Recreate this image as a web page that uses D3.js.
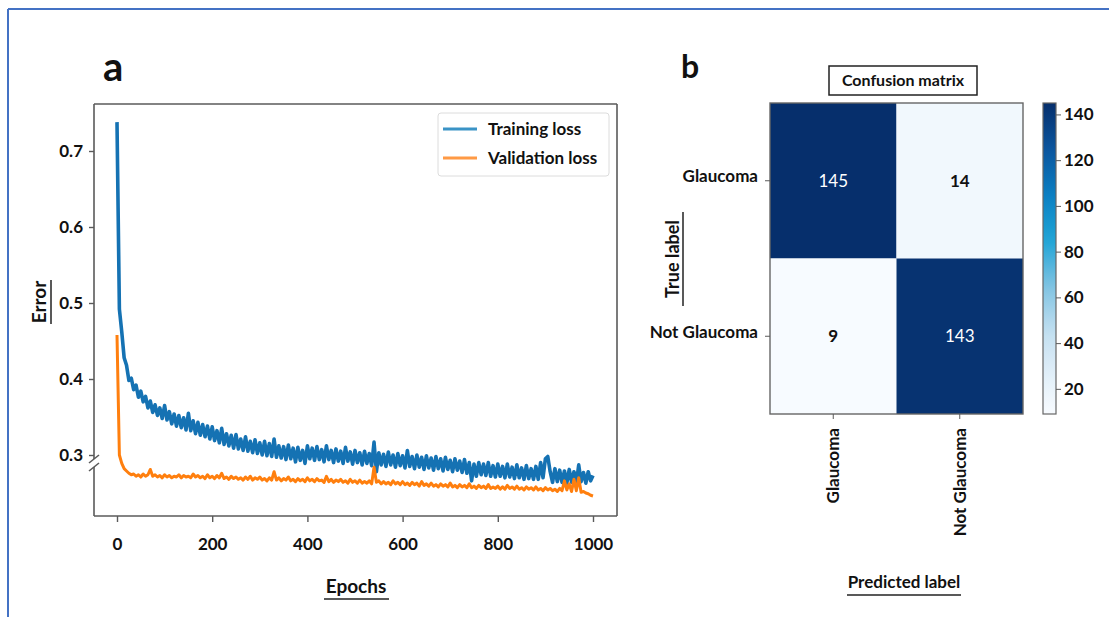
<!DOCTYPE html>
<html><head><meta charset="utf-8">
<script src="https://cdn.jsdelivr.net/npm/d3@7"></script>
<style>
body{margin:0;background:#fff}
svg{display:block}
text{font-family:Lato,"Open Sans",sans-serif}
</style>
</head><body>
<svg id="c" width="1109" height="617"></svg>
<script>
// ---------- data ----------
const epochStep = 5;
const trainingLoss = [
0.738,0.492,0.462,0.428,0.418,0.398,0.401,0.386,0.392,0.376,
0.384,0.370,0.377,0.362,0.371,0.356,0.366,0.352,0.362,0.348,
0.365,0.346,0.357,0.341,0.354,0.338,0.352,0.336,0.349,0.333,
0.355,0.332,0.345,0.328,0.343,0.326,0.340,0.324,0.338,0.321,
0.337,0.319,0.332,0.316,0.335,0.314,0.328,0.312,0.326,0.309,
0.327,0.308,0.321,0.306,0.324,0.305,0.318,0.303,0.320,0.302,
0.316,0.300,0.318,0.299,0.315,0.298,0.321,0.297,0.312,0.296,
0.311,0.294,0.313,0.295,0.309,0.291,0.310,0.293,0.306,0.289,
0.312,0.295,0.309,0.293,0.311,0.294,0.307,0.291,0.312,0.294,
0.306,0.290,0.308,0.292,0.305,0.289,0.310,0.292,0.304,0.288,
0.306,0.290,0.303,0.287,0.305,0.289,0.302,0.286,0.317,0.278,
0.303,0.287,0.301,0.285,0.304,0.287,0.300,0.284,0.302,0.286,
0.299,0.283,0.306,0.285,0.298,0.282,0.300,0.284,0.297,0.281,
0.299,0.283,0.296,0.280,0.298,0.282,0.295,0.279,0.297,0.281,
0.293,0.278,0.295,0.280,0.292,0.277,0.294,0.276,0.290,0.266,
0.288,0.272,0.290,0.274,0.288,0.273,0.290,0.272,0.286,0.271,
0.288,0.272,0.285,0.270,0.288,0.271,0.284,0.269,0.287,0.270,
0.283,0.268,0.286,0.269,0.282,0.268,0.285,0.268,0.290,0.270,
0.295,0.298,0.278,0.264,0.282,0.265,0.280,0.264,0.279,0.263,
0.281,0.264,0.278,0.263,0.287,0.265,0.277,0.263,0.278,0.266,
0.273];
const validationLoss = [
0.458,0.300,0.289,0.282,0.279,0.276,0.274,0.275,0.272,0.274,
0.271,0.275,0.272,0.274,0.281,0.272,0.274,0.271,0.273,0.270,
0.274,0.271,0.273,0.270,0.272,0.271,0.274,0.270,0.273,0.271,
0.272,0.270,0.275,0.271,0.273,0.270,0.272,0.269,0.274,0.270,
0.272,0.269,0.273,0.270,0.276,0.269,0.271,0.268,0.272,0.269,
0.271,0.268,0.270,0.267,0.271,0.268,0.272,0.267,0.270,0.268,
0.271,0.267,0.269,0.266,0.270,0.267,0.278,0.267,0.270,0.266,
0.269,0.267,0.271,0.266,0.268,0.265,0.269,0.266,0.268,0.265,
0.270,0.266,0.268,0.265,0.269,0.266,0.267,0.264,0.272,0.265,
0.268,0.264,0.267,0.265,0.268,0.264,0.266,0.263,0.268,0.264,
0.266,0.263,0.267,0.263,0.265,0.263,0.266,0.262,0.284,0.264,
0.266,0.262,0.265,0.262,0.264,0.261,0.266,0.262,0.264,0.261,
0.265,0.261,0.263,0.260,0.264,0.261,0.263,0.259,0.265,0.260,
0.262,0.259,0.263,0.259,0.261,0.258,0.262,0.259,0.261,0.258,
0.263,0.258,0.260,0.257,0.261,0.258,0.260,0.257,0.262,0.257,
0.259,0.256,0.260,0.257,0.259,0.256,0.261,0.256,0.258,0.256,
0.259,0.255,0.258,0.255,0.260,0.256,0.258,0.255,0.259,0.255,
0.257,0.254,0.258,0.255,0.257,0.254,0.258,0.254,0.256,0.253,
0.257,0.254,0.256,0.253,0.255,0.252,0.256,0.253,0.266,0.254,
0.262,0.252,0.268,0.253,0.270,0.251,0.252,0.250,0.249,0.247,
0.246];
const seriesNames = ["Training loss","Validation loss"];
const xTicks = [0,200,400,600,800,1000];
const yTicks = [0.3,0.4,0.5,0.6,0.7];
const classes = ["Glaucoma","Not Glaucoma"];
const confusion = [[145,14],[9,143]];
const colorbarTicks = [20,40,60,80,100,120,140];
const colorbarDomain = [9,145];

// ---------- styles ----------
const C_TRAIN = "#1572b3", C_VAL = "#ff7f0e";
const FRAME = "#4472c4", SPINE = "#5a5a5a";
const cmapStops = [9,25,45,65,85,105,125,145];
const cmapColors = ["#f7fbff","#e3f0f9","#c2dff0","#7fc3e2","#1ea4d6","#0a7fc2","#0b559e","#062f6c"];

const svg = d3.select("#c");

// outer blue frame
svg.append("line").attr("x1",8).attr("x2",1109).attr("y1",9).attr("y2",9).attr("stroke",FRAME).attr("stroke-width",2);
svg.append("line").attr("x1",8).attr("x2",8).attr("y1",9).attr("y2",617).attr("stroke",FRAME).attr("stroke-width",2);

// ================= panel a =================
const x = d3.scaleLinear().domain([0,1000]).range([117,593]);
const y = d3.scaleLinear().domain([0.3,0.7]).range([455,151]);
const P = {l:94, r:617, t:104, b:516};

svg.append("text").text("a").attr("x",103).attr("y",81).attr("font-size",40).attr("font-weight",700).attr("fill","#111");

const epochs = trainingLoss.map((_,i)=>i*epochStep);
const line = d3.line().x((d,i)=>x(epochs[i])).y(d=>y(d));
svg.append("path").datum(trainingLoss).attr("d",line).attr("fill","none").attr("stroke",C_TRAIN).attr("stroke-width",3.6).attr("stroke-linejoin","round");
svg.append("path").datum(validationLoss).attr("d",line).attr("fill","none").attr("stroke",C_VAL).attr("stroke-width",3).attr("stroke-linejoin","round");

// spines
const sp = svg.append("g").attr("stroke",SPINE).attr("stroke-width",1.6).attr("fill","none");
sp.append("line").attr("x1",P.l).attr("x2",P.r).attr("y1",P.t).attr("y2",P.t);
sp.append("line").attr("x1",P.r).attr("x2",P.r).attr("y1",P.t).attr("y2",P.b);
sp.append("line").attr("x1",P.l).attr("x2",P.r).attr("y1",P.b).attr("y2",P.b);
sp.append("line").attr("x1",P.l).attr("x2",P.l).attr("y1",P.t).attr("y2",459);
sp.append("line").attr("x1",P.l).attr("x2",P.l).attr("y1",467).attr("y2",P.b);
sp.append("line").attr("x1",89).attr("x2",99).attr("y1",463).attr("y2",455);
sp.append("line").attr("x1",89).attr("x2",99).attr("y1",471).attr("y2",463);

const ax = svg.append("g").attr("transform",`translate(0,${P.b})`)
  .call(d3.axisBottom(x).tickValues(xTicks).tickFormat(d3.format("d")).tickSize(6).tickPadding(16));
ax.select(".domain").remove();
ax.selectAll("line").attr("stroke",SPINE).attr("stroke-width",1.4);
ax.selectAll("text").attr("font-size",17).attr("font-weight",700).attr("fill","#111").attr("font-family","Lato");

const ay = svg.append("g").attr("transform",`translate(${P.l},0)`)
  .call(d3.axisLeft(y).tickValues(yTicks).tickFormat(d3.format(".1f")).tickSize(5).tickPadding(6));
ay.select(".domain").remove();
ay.selectAll("line").attr("stroke",SPINE).attr("stroke-width",1.4);
ay.selectAll("text").attr("font-size",17).attr("font-weight",700).attr("fill","#111").attr("font-family","Lato");

// axis titles
svg.append("text").text("Epochs").attr("x",356).attr("y",593).attr("text-anchor","middle").attr("font-size",19).attr("font-weight",700).attr("fill","#111");
svg.append("line").attr("x1",324).attr("x2",389).attr("y1",599).attr("y2",599).attr("stroke","#222").attr("stroke-width",1.5);
svg.append("text").text("Error").attr("transform","translate(46,302) rotate(-90)").attr("text-anchor","middle").attr("font-size",19).attr("font-weight",700).attr("fill","#111");
svg.append("line").attr("x1",51).attr("x2",51).attr("y1",280).attr("y2",324).attr("stroke","#222").attr("stroke-width",1.5);

// legend
const lg = svg.append("g");
lg.append("rect").attr("x",438).attr("y",113).attr("width",171).attr("height",63).attr("rx",3).attr("fill","#fff").attr("stroke","#dcdcdc").attr("stroke-width",1);
[C_TRAIN,C_VAL].forEach((c,i)=>{
  const yy = 129 + i*29;
  lg.append("line").attr("x1",443).attr("x2",477).attr("y1",yy).attr("y2",yy).attr("stroke",i?"#ff9a45":"#3a93c6").attr("stroke-width",3);
  lg.append("text").text(seriesNames[i]).attr("x",488).attr("y",yy+6).attr("font-size",17).attr("font-weight",700).attr("fill","#111");
});

// ================= panel b =================
svg.append("text").text("b").attr("x",681).attr("y",78).attr("font-size",32).attr("font-weight",700).attr("fill","#111");

const color = d3.scaleLinear().domain(cmapStops).range(cmapColors).interpolate(d3.interpolateRgb);
const cx = d3.scaleBand().domain(classes).range([770,1023]);
const cy = d3.scaleBand().domain(classes).range([103,414]);

// title box
svg.append("rect").attr("x",829).attr("y",66).attr("width",148).attr("height",29).attr("fill","#fff").attr("stroke","#222").attr("stroke-width",1.5);
svg.append("text").text("Confusion matrix").attr("x",903).attr("y",86).attr("text-anchor","middle").attr("font-size",16).attr("font-weight",700).attr("fill","#111");

const cells = [];
confusion.forEach((row,i)=>row.forEach((v,j)=>cells.push({r:classes[i],c:classes[j],v})));
svg.append("g").selectAll("rect").data(cells).join("rect")
  .attr("x",d=>cx(d.c)).attr("y",d=>cy(d.r)).attr("width",cx.bandwidth()).attr("height",cy.bandwidth())
  .attr("fill",d=>color(d.v));
svg.append("g").selectAll("text").data(cells).join("text")
  .attr("x",d=>cx(d.c)+cx.bandwidth()/2).attr("y",d=>cy(d.r)+cy.bandwidth()/2+6)
  .attr("text-anchor","middle").attr("font-size",17)
  .attr("font-weight",d=>d.v>77?400:700)
  .attr("fill",d=>d.v>77?"#fff":"#111").text(d=>d.v);
svg.append("rect").attr("x",770).attr("y",103).attr("width",253).attr("height",311).attr("fill","none").attr("stroke","#666").attr("stroke-width",1.4);

const rowAx = svg.append("g").attr("transform","translate(770,0)")
  .call(d3.axisLeft(cy).tickSize(5).tickPadding(7));
rowAx.select(".domain").remove();
rowAx.selectAll("line").attr("stroke",SPINE);
rowAx.selectAll("text").attr("font-size",17).attr("font-weight",700).attr("fill","#111").attr("font-family","Lato").attr("dy","0.1em");

const colAx = svg.append("g").attr("transform","translate(0,414)")
  .call(d3.axisBottom(cx).tickSize(5).tickPadding(7));
colAx.select(".domain").remove();
colAx.selectAll("line").attr("stroke",SPINE);
colAx.selectAll("text").attr("font-size",17).attr("font-weight",700).attr("fill","#111").attr("font-family","Lato")
  .attr("text-anchor","end").attr("transform","rotate(-90)").attr("x",-14).attr("y",0).attr("dy","0.35em");

svg.append("text").text("True label").attr("transform","translate(679,259) rotate(-90)").attr("text-anchor","middle").attr("font-size",18).attr("font-weight",700).attr("fill","#111");
svg.append("line").attr("x1",683).attr("x2",683).attr("y1",212).attr("y2",306).attr("stroke","#222").attr("stroke-width",1.5);
svg.append("text").text("Predicted label").attr("x",904).attr("y",588).attr("text-anchor","middle").attr("font-size",17).attr("font-weight",700).attr("fill","#111");
svg.append("line").attr("x1",847).attr("x2",961).attr("y1",595).attr("y2",595).attr("stroke","#222").attr("stroke-width",1.5);

// colorbar
const cb = d3.scaleLinear().domain(colorbarDomain).range([414,103]);
const defs = svg.append("defs");
const grad = defs.append("linearGradient").attr("id","cbg").attr("x1",0).attr("y1",1).attr("x2",0).attr("y2",0);
d3.range(0,1.0001,0.05).forEach(t=>{
  const v = colorbarDomain[0] + t*(colorbarDomain[1]-colorbarDomain[0]);
  grad.append("stop").attr("offset",t).attr("stop-color",color(v));
});
svg.append("rect").attr("x",1043).attr("y",103).attr("width",13).attr("height",311).attr("fill","url(#cbg)").attr("stroke","#666").attr("stroke-width",1.2);
const cbAx = svg.append("g").attr("transform","translate(1056,0)")
  .call(d3.axisRight(cb).tickValues(colorbarTicks).tickSize(5).tickPadding(3));
cbAx.select(".domain").remove();
cbAx.selectAll("line").attr("stroke",SPINE);
cbAx.selectAll("text").attr("font-size",17).attr("font-weight",700).attr("fill","#111").attr("font-family","Lato");
</script>
</body></html>
